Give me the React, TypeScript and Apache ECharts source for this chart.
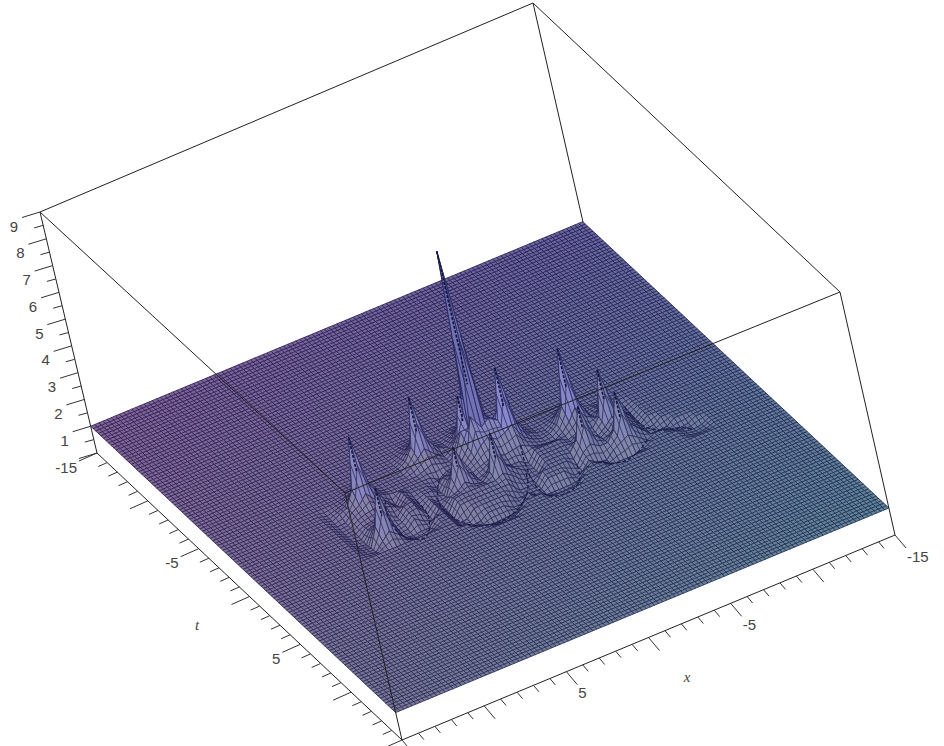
import React, { useEffect, useRef } from "react";
import * as echarts from "echarts";

// Heights. Each run: [row, firstColumn, heights].
// row r -> t = -7 + r/2, column c -> x = 9 - c/2
const baseHeight = 1;
const tailLeft = [[11,0,[.92]],[12,0,[.9,.9]],[13,0,[.88,.9]],[14,0,[.85,.88]],[15,0,[.85,.85]],[16,0,[.85,.8,.85]],[17,0,[.85,.8,.88]],[18,0,[.88,.85,.88]],[19,0,[.92,.88,.85,.88]]];
const hollowOne = [[13,8,[1.15]],[14,7,[1.15,1.15]],[15,7,[1.1,1.15]],[16,6,[1.03,1.05,1.1]],[17,7,[1]]];
const troughOne = [[12,7,[.85]],[13,6,[.85,.8]],[14,6,[.8,.9]],[14,9,[.9]],[15,5,[.8,.82]],[15,9,[.82]],[16,5,[.75,.82]],[16,9,[.75]],[17,5,[.7,.75]],[17,8,[.8,.7]],[18,5,[.72,.68,.72,.72]],[19,5,[.85,.72,.72,.85]]];
const hollowTwo = [[16,14,[1.2,1.2,1.2,1.2,1.2]],[17,12,[1.12,1.16,1.16,1.16,1.16,1.16,1.16,1.16]],[18,12,[1.05,1.08,1.08,1.08,1.08,1.08,1.08]],[19,13,[.98,1,1,1,1]],[20,14,[.88,.88,.88]]];
const troughTwo = [[12,13,[.82]],[13,12,[.82]],[14,12,[.78]],[15,11,[.78,.82]],[16,11,[.75]],[17,11,[.72]],[18,11,[.7]],[19,11,[.7,.72]],[20,11,[.7,.66,.7]],[21,12,[.82,.66,.66,.68,.7,.75]],[22,13,[.92,.8,.78,.85]],[20,17,[.7,.7]],[19,18,[.72,.7]],[18,19,[.72,.72]],[17,20,[.8]],[16,20,[.82,.86]]];
const hollowThree = [[15,23,[1.18,1.18,1.18,1.18]],[16,23,[1.14,1.14,1.14,1.14]],[17,23,[1.1,1.1,1.1]],[18,22,[1.05,1.05,1.05,1.05]],[19,22,[.98,.98,.98]]];
const troughThree = [[14,22,[.86]],[15,22,[.82]],[16,22,[.8]],[17,21,[.76,.8]],[18,21,[.72]],[19,20,[.72,.7]],[20,20,[.7,.66,.66,.66,.66,.7]],[21,21,[.8,.68,.68,.72]],[19,25,[.7,.72]],[18,26,[.76]],[17,26,[.8]]];
const troughFour = [[19,28,[.8,.76]],[20,29,[.76,.72,.72,.8,.86]],[19,33,[.82,.86]],[13,35,[.9]],[14,35,[.86]],[15,35,[.82]],[16,35,[.8]],[17,35,[.8,.82]],[18,35,[.8,.8,.82]],[19,37,[.86,.82,.86]],[20,38,[.86,.82,.86]],[21,38,[.9,.86,.9]]];
const peakA1 = [[9,3,[1.03,1.05,1.03]],[10,2,[1.03,1.08,1.15,1.08,1.03]],[11,2,[1.08,1.25,1.6,1.25,1.08]],[12,1,[1.03,1.15,1.7,3.5,1.7,1.15,1.03]],[13,2,[1.15,1.3,1.6,1.25,1.1]],[14,2,[1.05,1.15,1.2,1.15,1.05]],[15,3,[1.05,1.1,1.05]]];
const peakB1 = [[16,2,[1.05,1.15,1.05]],[17,2,[1.2,1.5,1.2]],[18,2,[1.5,2.8,1.45]],[19,2,[1.15,1.4,1.15]]];
const peakA2 = [[6,12,[1.05,1.08,1.05]],[7,11,[1.05,1.15,1.25,1.15,1.05]],[8,11,[1.12,1.35,1.7,1.3,1.1]],[9,10,[1.05,1.2,1.6,3.3,1.6,1.2,1.05]],[10,11,[1.15,1.35,1.6,1.3,1.12]],[11,12,[1.1,1.2,1.1]]];
const peakB2 = [[13,13,[1.05,1.1,1.05]],[14,13,[1.15,1.4,1.15]],[15,13,[1.4,2.4,1.4]],[16,13,[1.1,1.3,1.1]]];
const spikeCluster = [[7,17,[1.05,1.1,1.15,1.1,1.05]],[8,16,[1.05,1.15,1.35,1.5,1.3,1.15,1.05]],[9,16,[1.1,1.3,1.9,2.8,1.9,1.4,1.15,1.05]],[10,15,[1.05,1.2,1.6,2.9,2.6,2.2,1.7,1.5,1.25,1.05]],[11,15,[1.05,1.25,1.9,1.9,8.3,2,1.9,2.2,1.4,1.1]],[12,15,[1.03,1.15,1.5,2.5,2,2.2,2,3.8,1.7,1.15,1.03]],[13,16,[1.1,1.3,1.6,1.8,1.6,1.7,1.9,1.3,1.1]],[14,16,[1.05,1.15,1.25,1.3,1.2,1.25,1.3,1.15,1.05]]];
const peakB3 = [[15,17,[1.1,1.35,1.15]],[16,16,[1.05,1.3,2.6,1.3,1.05]],[17,17,[1.15,1.3,1.1]]];
const peakA4 = [[10,28,[1.03,1.08,1.03]],[11,27,[1.05,1.15,1.3,1.15,1.05]],[12,27,[1.15,1.5,1.9,1.4,1.15]],[13,26,[1.05,1.25,1.8,3.8,1.7,1.25,1.05]],[14,27,[1.15,1.4,1.8,1.35,1.15]],[15,27,[1.05,1.15,1.25,1.15]]];
const peakB4 = [[16,27,[1.1,1.3,1.1]],[17,26,[1.05,1.4,2.5,1.35,1.05]],[18,27,[1.1,1.3,1.1]]];
const peakA5 = [[12,31,[1.05,1.1,1.05]],[13,31,[1.1,1.2,1.1]],[14,31,[1.2,1.5,1.25,1.05]],[15,30,[1.1,1.4,3,1.45,1.15]],[16,31,[1.2,1.45,1.2,1.05]]];
const peakB5 = [[17,31,[1.15,1.45,1.15]],[18,30,[1.1,1.45,2.7,1.4,1.1]],[19,31,[1.15,1.3,1.1]]];
const surfaceRuns = [tailLeft, hollowOne, troughOne, hollowTwo, troughTwo, hollowThree, troughThree, troughFour, peakA1, peakB1, peakA2, peakB2, spikeCluster, peakB3, peakA4, peakB4, peakA5, peakB5];
// Peaks whose upper part shows as a dark dashed stroke: [row, column, lower height]
const ridgeCells = [[11,19,3.4],[12,4,2.2],[18,3,1.8],[9,13,2],[15,14,1.7],[12,22,2.4],[10,18,2],[16,18,1.7],[13,29,2.4],[17,28,1.7],[15,32,1.9],[18,32,1.8]];
// The thin dark curves that run along the bottom of the hollows: [row, column] in order
const valleyOne = [[13,6],[15,5],[17,5],[19,6],[19,7],[18,8],[16,9],[14,9]];
const valleyTwo = [[12,13],[15,11],[18,11],[20,12],[21,14],[21,16],[20,18],[18,20],[16,21]];
const valleyThree = [[14,22],[17,21],[20,21],[21,23],[20,25],[18,26]];
const valleyFour = [[19,28],[20,30],[20,32],[19,34]];
const valleyFive = [[13,35],[16,35],[18,36],[19,38],[20,39]];
const valleys = [valleyOne, valleyTwo, valleyThree, valleyFour, valleyFive];

const zLabels = [1, 2, 3, 4, 5, 6, 7, 8, 9];
const zTickValues = [0, .5, 1, 1.5, 2, 2.5, 3, 3.5, 4, 4.5, 5, 5.5, 6, 6.5, 7, 7.5, 8, 8.5, 9];
const axisTicks = [-15,-14,-13,-12,-11,-10,-9,-8,-7,-6,-5,-4,-3,-2,-1,0,1,2,3,4,5,6,7,8,9,10,11,12,13,14,15];
const axisLabels = [-15, -5, 5];

// View: where the eight corners of the box fall on the page (x, t, z order)
const cornerLeft = { bottom: [97, 453], top: [40, 212] };
const cornerBack = { bottom: [589, 249], top: [533, 3] };
const cornerRight = { bottom: [895, 535], top: [840, 292] };
const cornerFront = { bottom: [402, 740], top: [345, 493] };
const zMax = 9;
const span = 30;
const cellsPerSide = 60;

const project = (x: number, t: number, z: number) => {
  const a = (t + 15) / span, b = (15 - x) / span, w = z / zMax;
  const at = (k: 0 | 1) => {
    const pick = (c: any) => c.bottom[k] + (c.top[k] - c.bottom[k]) * w;
    return (pick(cornerLeft) * (1 - a) + pick(cornerFront) * a) * (1 - b) + (pick(cornerBack) * (1 - a) + pick(cornerRight) * a) * b;
  };
  return [at(0), at(1)];
};

const heightGrid: number[][] = [];
for (let i = 0; i <= cellsPerSide; i++) heightGrid.push(new Array(cellsPerSide + 1).fill(baseHeight));
surfaceRuns.forEach((group: any) => group.forEach(([r, c, vals]: any) => vals.forEach((v: number, k: number) => { heightGrid[r + 16][c + k + 12] = v; })));

const cellOrder: number[][] = [];
for (let i = 0; i < cellsPerSide; i++) for (let j = 0; j < cellsPerSide; j++) cellOrder.push([i, j]);
cellOrder.sort((p, q) => (p[0] - p[1]) - (q[0] - q[1]));

const mix = (c: number[], d: number[], m: number) => c.map((v, k) => v + (d[k] - v) * m);
const css = (c: number[]) => `rgb(${Math.round(c[0])},${Math.round(c[1])},${Math.round(c[2])})`;
const hueLeft = [96, 56, 124], hueBack = [62, 56, 132], hueRight = [52, 98, 126], hueFront = [82, 82, 124];

const renderCell = (_: any, api: any) => {
  const i = api.value(0), j = api.value(1);
  const h = heightGrid;
  const corner = (ii: number, jj: number) => api.coord(project(15 - jj / 2, -15 + ii / 2, h[ii][jj]));
  const p = [corner(i, j), corner(i + 1, j), corner(i + 1, j + 1), corner(i, j + 1)];
  const a = (i + .5) / cellsPerSide, b = (j + .5) / cellsPerSide;
  let c = mix(mix(hueLeft, hueFront, a), mix(hueBack, hueRight, a), b);
  const avg = (h[i][j] + h[i + 1][j] + h[i + 1][j + 1] + h[i][j + 1]) / 4;
  const top = Math.max(h[i][j], h[i + 1][j], h[i + 1][j + 1], h[i][j + 1]);
  const tilt = h[i][j + 1] - h[i + 1][j];
  if (tilt > .06) c = mix(c, [125, 125, 160], Math.min(.45, tilt));
  if (tilt < -.06) c = mix(c, [36, 36, 100], Math.min(.8, -tilt * 2));
  if (avg > 1.35) c = mix(c, [104, 104, 205], Math.min(1, (avg - 1.35) / 1) * .75);
  if (top > 6) c = [74, 74, 160];
  const fill = css(mix(c, [255, 255, 255], .22));
  const stroke = css(mix(c, [16, 16, 52], .6));
  const mid = (u: number[], v: number[]) => [(u[0] + v[0]) / 2, (u[1] + v[1]) / 2];
  const m1 = mid(p[0], p[1]), m2 = mid(p[3], p[2]), m3 = mid(p[0], p[3]), m4 = mid(p[1], p[2]);
  const lineStyle = { stroke, lineWidth: .85 };
  return {
    type: "group",
    children: [
      { type: "polygon", shape: { points: p }, style: { fill, stroke, lineWidth: .85 } },
      { type: "line", shape: { x1: m1[0], y1: m1[1], x2: m2[0], y2: m2[1] }, style: lineStyle },
      { type: "line", shape: { x1: m3[0], y1: m3[1], x2: m4[0], y2: m4[1] }, style: lineStyle },
    ],
  };
};

const renderRidge = (_: any, api: any) => {
  const r = api.value(0), c = api.value(1), low = api.value(2);
  const x = 9 - c / 2, t = -7 + r / 2;
  const s = api.coord(project(x, t, heightGrid[r + 16][c + 12])), e = api.coord(project(x, t, low));
  return { type: "line", shape: { x1: s[0], y1: s[1], x2: e[0], y2: e[1] }, style: { stroke: "#14143c", lineWidth: 1.6, lineDash: [3, 1.5] } };
};

const renderValley = (params: any, api: any) => {
  const path = valleys[params.dataIndex];
  const points = path.map(([r, c]) => api.coord(project(9 - c / 2, -7 + r / 2, heightGrid[r + 16][c + 12])));
  return { type: "polyline", shape: { points, smooth: .4 }, style: { stroke: "#1c1c4a", lineWidth: 1.3, lineDash: [4, 2], fill: "none" } };
};

const lineColor = "#222";
const boxEdges = [
  [cornerLeft.top, cornerBack.top], [cornerBack.top, cornerRight.top], [cornerRight.top, cornerFront.top], [cornerFront.top, cornerLeft.top],
  [cornerLeft.top, cornerLeft.bottom], [cornerBack.top, [583, 222]], [cornerRight.top, cornerRight.bottom], [cornerFront.top, cornerFront.bottom],
  [cornerLeft.bottom, cornerFront.bottom], [cornerFront.bottom, cornerRight.bottom],
];

const renderEdge = (_: any, api: any) => {
  const s = api.coord([api.value(0), api.value(1)]), e = api.coord([api.value(2), api.value(3)]);
  return { type: "line", shape: { x1: s[0], y1: s[1], x2: e[0], y2: e[1] }, style: { stroke: lineColor, lineWidth: 1 } };
};

const tickData: any[] = [];
zTickValues.forEach((z) => tickData.push([...project(15, -15, z), -18 * (z % 1 === 0 ? 1 : .5), 5.5 * (z % 1 === 0 ? 1 : .45)]));
axisTicks.forEach((t) => { const M = t % 5 === 0 ? 1 : .5; tickData.push([...project(15, t, 0), -18 * M, 8 * M]); });
axisTicks.forEach((x) => { const M = x % 5 === 0 ? 1 : .5; tickData.push([...project(x, 15, 0), 11 * M, 13 * M]); });

const renderTick = (_: any, api: any) => {
  const s = api.coord([api.value(0), api.value(1)]);
  return { type: "line", shape: { x1: s[0], y1: s[1], x2: s[0] + api.value(2), y2: s[1] + api.value(3) }, style: { stroke: "#333", lineWidth: 1 } };
};

const labelFont = '15px "Liberation Sans", Arial, sans-serif';
const labelData: any[] = [];
zLabels.forEach((z) => { const q = project(15, -15, z); labelData.push([q[0] - 26, q[1] + 14, String(z), "center", labelFont]); });
axisLabels.forEach((t) => { const q = project(15, t, 0); labelData.push([q[0] - 20, q[1] + 14, String(t), "right", labelFont]); });
axisLabels.forEach((x) => { const q = project(x, 15, 0); labelData.push([q[0] + 12, q[1] + 21, String(x), "left", labelFont]); });
const titleFont = 'italic 15px "Liberation Serif", serif';
labelData.push([197, 625, "t", "center", titleFont], [687, 677, "x", "center", titleFont]);

const renderLabel = (_: any, api: any) => {
  const s = api.coord([api.value(0), api.value(1)]);
  return { type: "text", x: s[0], y: s[1], style: { text: api.value(2), fill: "#444", font: api.value(4), align: api.value(3), verticalAlign: "middle" } };
};

export default function App() {
  const ref = useRef<HTMLDivElement>(null);
  useEffect(() => {
    document.body.style.margin = "0";
    const chart = echarts.init(ref.current!, undefined, { renderer: "svg" });
    const common = { type: "custom", coordinateSystem: "cartesian2d", silent: true, clip: false, progressive: 0, animation: false };
    chart.setOption({
      animation: false,
      backgroundColor: "#fff",
      grid: { left: 0, right: 0, top: 0, bottom: 0 },
      xAxis: { type: "value", min: 0, max: 944, show: false },
      yAxis: { type: "value", min: 0, max: 746, inverse: true, show: false },
      series: [
        { ...common, name: "surface", data: cellOrder, renderItem: renderCell, encode: { x: 0, y: 1 } },
        { ...common, name: "valleys", data: valleys.map((_, k) => [k, 0]), renderItem: renderValley, encode: { x: 0, y: 1 } },
        { ...common, name: "ridges", data: ridgeCells, renderItem: renderRidge, encode: { x: 0, y: 1 } },
        { ...common, name: "box", data: boxEdges.map((e) => [e[0][0], e[0][1], e[1][0], e[1][1]]), renderItem: renderEdge },
        { ...common, name: "ticks", data: tickData, renderItem: renderTick },
        { ...common, name: "labels", data: labelData, dimensions: ["x", "y", { name: "s", type: "ordinal" }, { name: "a", type: "ordinal" }, { name: "f", type: "ordinal" }], renderItem: renderLabel },
      ],
    });
    return () => chart.dispose();
  }, []);
  return <div ref={ref} style={{ width: 944, height: 746 }} />;
}
